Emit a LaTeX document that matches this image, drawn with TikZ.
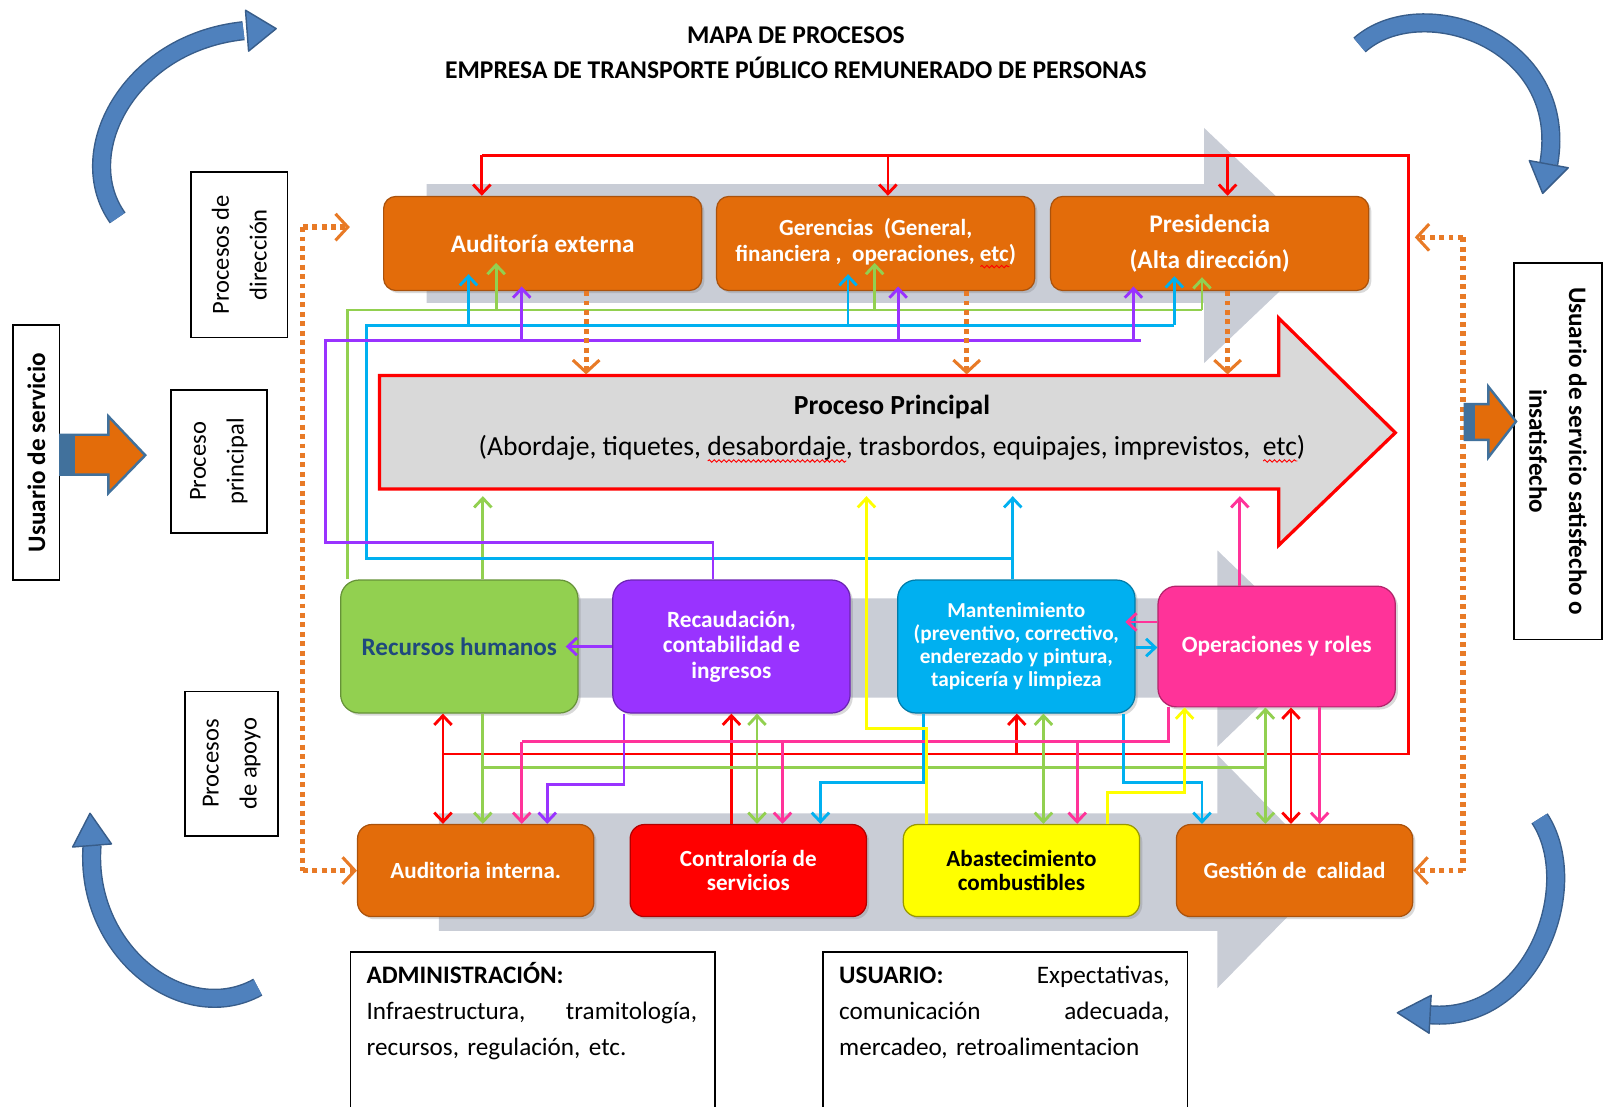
\documentclass[tikz,border=0pt]{standalone}
\usepackage{fontspec}
\setmainfont{Carlito}
\usetikzlibrary{arrows.meta,shadows,decorations.pathmorphing}

\definecolor{orgbox}{RGB}{227,108,10}
\definecolor{orgedge}{RGB}{170,82,12}
\definecolor{grn}{RGB}{146,208,80}
\definecolor{prp}{RGB}{153,51,255}
\definecolor{cyn}{RGB}{0,176,240}
\definecolor{pnk}{RGB}{255,51,153}
\definecolor{rd}{RGB}{255,0,0}
\definecolor{ylw}{RGB}{255,255,0}
\definecolor{bandgray}{RGB}{201,205,214}
\definecolor{maingray}{RGB}{217,217,217}
\definecolor{dotorg}{RGB}{232,122,38}
\definecolor{curvefill}{RGB}{79,129,189}
\definecolor{curveedge}{RGB}{56,93,138}
\definecolor{rhtext}{RGB}{31,73,125}
\definecolor{blockedge}{RGB}{65,113,156}

% red spell-check style wavy underline
\newsavebox\sqbox
\newdimen\sqlen
\newcommand\squig[1]{\leavevmode\sbox\sqbox{#1}\sqlen=\wd\sqbox
  \rlap{\raisebox{-3.4pt}{\tikz[x=1pt,y=1pt,sharp corners]{\draw[rd,sharp corners,line width=0.45pt,decorate,decoration={snake,amplitude=0.6pt,segment length=2.4pt}] (0,0) -- (\sqlen,0);}}}\usebox\sqbox}

\begin{document}
\frenchspacing
\begin{tikzpicture}[x=0.5pt,y=-0.5pt,
  ln/.style={line width=1.4pt},
  onehead/.style={-{Straight Barb[length=4.5pt,width=8.5pt]}},
  twohead/.style={{Straight Barb[length=4.5pt,width=8.5pt]}-{Straight Barb[length=4.5pt,width=8.5pt]}},
  dotl/.style={dotorg, line width=2.6pt, dash pattern=on 2.4pt off 2.2pt},
  dothead/.style={-{Straight Barb[length=6pt,width=13pt,line width=1.5pt]}},
  proc/.style={align=center, inner sep=2pt, line width=0.6pt,
    drop shadow={shadow xshift=1.3pt,shadow yshift=-1.3pt,opacity=0.3}},
  topbox/.style={proc, fill=orgbox, draw=orgedge, rounded corners=6pt,
    minimum width=155.5pt, minimum height=46pt, text=white,
    font=\fontsize{11.3}{12.5}\selectfont\bfseries},
  midbox/.style={proc, rounded corners=9pt, minimum width=116pt, minimum height=65pt,
    font=\fontsize{11.4}{12.5}\selectfont\bfseries},
  botbox/.style={proc, rounded corners=7pt, minimum width=115.5pt, minimum height=45pt,
    font=\fontsize{11.3}{12}\selectfont\bfseries},
  sidelbl/.style={draw, line width=0.8pt, align=center, inner sep=1pt,
    font=\fontsize{12}{18.5}\selectfont},
  txtframe/.style={draw, line width=0.8pt, minimum width=178pt, minimum height=95pt,
    anchor=north west, inner sep=0pt},
  txtbody/.style={anchor=north west, text width=161.5pt, align=left, inner sep=0pt,
    font=\fontsize{12.3}{17.5}\selectfont},
  bigtxt/.style={font=\fontsize{13.5}{15}\selectfont},
]
\useasboundingbox (0,0) rectangle (1568,1082);
\clip (0,0) rectangle (1568,1082);

% ---------- title
\node[font=\fontsize{12.5}{14}\selectfont\bfseries] (ttl1) at (778,34) {MAPA DE PROCESOS};
\node[font=\fontsize{12.5}{14}\selectfont\bfseries] (ttl2) at (778,66) {EMPRESA DE TRANSPORTE PÚBLICO REMUNERADO DE PERSONAS};

% ---------- grey process bands
\fill[bandgray] (417,180) -- (1177,180) -- (1177,125) -- (1298,240) -- (1177,355) -- (1177,296) -- (417,296) -- cycle;
\fill[bandgray] (345,585) -- (1190,585) -- (1190,538) -- (1290,634) -- (1190,730) -- (1190,682) -- (345,682) -- cycle;
\fill[bandgray] (429,795) -- (1190,795) -- (1190,738) -- (1302,852) -- (1190,966) -- (1190,910) -- (429,910) -- cycle;

% ---------- main process arrow
\filldraw[fill=maingray, draw=rd, line width=1.6pt] (371,367) -- (1250,367) -- (1250,311) -- (1364,423) -- (1250,533) -- (1250,478) -- (371,478) -- cycle;
\node[font=\fontsize{13.5}{15}\selectfont\bfseries] (mpt) at (872,398) {Proceso Principal};
\node[bigtxt] (mps) at (872,439) {(Abordaje, tiquetes, \squig{desabordaje}, trasbordos, equipajes, imprevistos,\ \ \squig{etc})};
\coordinate (mB) at (0,485);

% ---------- process boxes
\node[topbox, font=\fontsize{12.3}{13}\selectfont\bfseries] (aext) at (530.5,238) {Auditoría externa};
\node[topbox] (ger) at (856,238) {Gerencias\ \ (General,\\financiera ,\ \ operaciones, \squig{etc})};
\node[topbox, font=\fontsize{12.4}{13}\selectfont\bfseries] (pres) at (1182.5,238) {Presidencia\\[5pt](Alta dirección)};

\node[midbox, fill=grn, draw=grn!70!black, text=rhtext, font=\fontsize{12.3}{13}\selectfont\bfseries] (rh) at (449,632) {Recursos humanos};
\node[midbox, fill=prp, draw=prp!70!black, text=white] (rec) at (715,632) {Recaudación,\\contabilidad e\\ingresos};
\node[midbox, fill=cyn, draw=cyn!70!black, text=white, font=\fontsize{10.4}{11.2}\selectfont\bfseries] (man) at (993.5,632) {Mantenimiento\\(preventivo, correctivo,\\enderezado y pintura,\\tapicería y limpieza};
\node[midbox, fill=pnk, draw=pnk!70!black, text=white, minimum height=59pt] (ops) at (1248,632) {Operaciones y roles};

\node[botbox, fill=orgbox, draw=orgedge, text=white] (aint) at (465,851) {Auditoria interna.};
\node[botbox, fill=rd, draw=rd!70!black, text=white] (con) at (731.5,851) {Contraloría de\\servicios};
\node[botbox, fill=ylw, draw=ylw!60!black, text=black] (aba) at (998.5,851) {Abastecimiento\\combustibles};
\node[botbox, fill=orgbox, draw=orgedge, text=white] (gc) at (1265.5,851) {Gestión de\ \ calidad};

% ---------- red links
\coordinate (rTL) at (471,152);
\coordinate (rTG) at (868,152);
\coordinate (rTP) at (1200,152);
\coordinate (rTR) at (1377,152);
\coordinate (rBR) at (1377,737);
\coordinate (rBL) at (433,737);
\coordinate (rBM) at (994,737);
\draw[ln,rd] (rTL) -- (rTR) -- (rBR) -- (rBL);
\draw[ln,rd,onehead] (rTL) -- (aext.north -| rTL);
\draw[ln,rd,onehead] (rTG) -- (ger.north -| rTG);
\draw[ln,rd,onehead] (rTP) -- (pres.north -| rTP);
\draw[ln,rd,twohead] (rh.south -| rBL) -- (aint.north -| rBL);
\draw[ln,rd,onehead] (con.north -| 715,0) -- (rec.south -| 715,0);
\draw[ln,rd,onehead] (rBM) -- (man.south -| rBM);
\draw[ln,rd,twohead] (ops.south -| 1262,0) -- (gc.north -| 1262,0);

% ---------- upper buses to the management boxes
\coordinate (busG) at (340,303);
\coordinate (busC) at (358,318);
\coordinate (busP) at (318,333);
\coordinate (tG) at (0,257);
\coordinate (tC) at (0,268);
\coordinate (tP) at (0,280);

% green
\draw[ln,grn] (rh.north -| busG) -- (busG) -- (busG -| 1175,0);
\draw[ln,grn,onehead] (busG -| 485,0) -- (tG -| 485,0);
\draw[ln,grn,onehead] (busG -| 855,0) -- (tG -| 855,0);
\draw[ln,grn,onehead] (busG -| 1175,0) -- (1175,271);
\draw[ln,grn,onehead] (rh.north -| 472,0) -- (mB -| 472,0);
\draw[ln,grn,onehead] (rh.south -| 472,0) -- (aint.north -| 472,0);
\draw[ln,grn] (472,750) -- (1237,750);
\draw[ln,grn,twohead] (rec.south -| 740,0) -- (con.north -| 740,0);
\draw[ln,grn,twohead] (man.south -| 1020,0) -- (aba.north -| 1020,0);
\draw[ln,grn,twohead] (ops.south -| 1237,0) -- (gc.north -| 1237,0);

% cyan
\draw[ln,cyn,onehead] (man.north -| 990,0) -- (mB -| 990,0);
\draw[ln,cyn] (990,546) -- (busC |- 0,546) -- (busC) -- (busC -| 1148,0);
\draw[ln,cyn,onehead] (busC -| 458,0) -- (tC -| 458,0);
\draw[ln,cyn,onehead] (busC -| 829,0) -- (tC -| 829,0);
\draw[ln,cyn,onehead] (busC -| 1148,0) -- (1148,270);
\draw[ln,cyn,onehead] (man.east |- 0,633) -- (ops.west |- 0,633);
\draw[ln,cyn,onehead] (man.south -| 903,0) -- (903,765) -- (802,765) -- (con.north -| 802,0);
\draw[ln,cyn,onehead] (man.south -| 1098,0) -- (1098,765) -- (1175,765) -- (gc.north -| 1175,0);

% purple
\draw[ln,prp] (rec.north -| 697,0) -- (697,530) -- (busP |- 0,530) -- (busP) -- (busP -| 1115,0);
\draw[ln,prp,onehead] (busP -| 510,0) -- (tP -| 510,0);
\draw[ln,prp,onehead] (busP -| 878,0) -- (tP -| 878,0);
\draw[ln,prp,onehead] (busP -| 1108,0) -- (tP -| 1108,0);
\draw[ln,prp,onehead] (rec.west) -- (553,632);
\draw[ln,prp,onehead] (rec.south -| 610,0) -- (610,767) -- (535,767) -- (aint.north -| 535,0);

% pink
\draw[ln,pnk,onehead] (ops.north -| 1212,0) -- (mB -| 1212,0);
\draw[ln,pnk,onehead] (ops.west |- 0,608) -- (1100,608);
\draw[ln,pnk] (ops.south -| 1142,0) -- (1142,725) -- (510,725);
\draw[ln,pnk,onehead] (510,725) -- (aint.north -| 510,0);
\draw[ln,pnk,onehead] (765,725) -- (con.north -| 765,0);
\draw[ln,pnk,onehead] (1053,725) -- (aba.north -| 1053,0);
\draw[ln,pnk,onehead] (ops.south -| 1290,0) -- (gc.north -| 1290,0);

% yellow
\draw[ln,ylw,onehead] (aba.north -| 906,0) -- (906,712) -- (847,712) -- (mB -| 847,0);
\draw[ln,ylw,onehead] (aba.north -| 1083,0) -- (1083,775) -- (1158,775) -- (ops.south -| 1158,0);

% ---------- dotted feedback arrows
\coordinate (dL1) at (296,222);
\coordinate (dL2) at (296,851);
\coordinate (dLt) at (342,222);
\coordinate (dR1) at (1430,232);
\coordinate (dR2) at (1430,851);
\coordinate (dRt) at (1383,232);
\coordinate (dM) at (0,366);
\draw[dotl] (dL1) -- (dL2);
\draw[dotl,dothead] (dL1) -- (dLt);
\draw[dotl,dothead] (dL2) -- (aint.west);
\draw[dotl] (dR1) -- (dR2);
\draw[dotl,dothead] (dR1) -- (dRt);
\draw[dotl,dothead] (dR2) -- (gc.east);
\draw[dotl,dothead] (aext.south -| 573,0) -- (dM -| 573,0);
\draw[dotl,dothead] (ger.south -| 945,0) -- (dM -| 945,0);
\draw[dotl,dothead] (pres.south -| 1200,0) -- (dM -| 1200,0);

% ---------- side labels
\node[sidelbl, rotate=90, minimum width=81pt, minimum height=47pt] (ldir) at (234,249) {Procesos de\\dirección};
\node[sidelbl, rotate=90, minimum width=70pt, minimum height=47pt] (lpp) at (214,451) {Proceso\\principal};
\node[sidelbl, rotate=90, minimum width=70.5pt, minimum height=45.5pt] (lapo) at (226.5,746.5) {Procesos\\de apoyo};
\node[sidelbl, rotate=90, minimum width=124.5pt, minimum height=22.5pt, font=\fontsize{12.3}{13}\selectfont\bfseries] (luser) at (35.5,442.5) {Usuario de servicio};
\node[sidelbl, rotate=-90, minimum width=184pt, minimum height=43pt, font=\fontsize{12.3}{19.5}\selectfont\bfseries] (lsat) at (1523,441) {Usuario de servicio satisfecho o\\insatisfecho};

% ---------- block arrows in and out
\filldraw[fill=orgbox, draw=blockedge, line width=1.2pt] (59,425) -- (106,425) -- (106,407) -- (142,445) -- (106,482) -- (106,464) -- (59,464) -- cycle;
\fill[blockedge] (60,426) rectangle (73,463);
\filldraw[fill=orgbox, draw=blockedge, line width=1.2pt] (1432,395) -- (1455,395) -- (1455,378) -- (1482,412) -- (1455,447) -- (1455,430) -- (1432,430) -- cycle;
\fill[blockedge] (1433,396) rectangle (1442,429);

% ---------- blue cycle arrows
\draw[curveedge, line width=9.4pt] (115,213) .. controls (70,150) and (125,42) .. (238,30);
\draw[curvefill, line width=8pt] (115,213) .. controls (70,150) and (125,42) .. (238,30);
\filldraw[fill=curvefill, draw=curveedge, line width=0.7pt, line join=round] (240,10) -- (270,28) -- (243,50) -- cycle;

\draw[curveedge, line width=9.4pt] (1329,44) .. controls (1390,-10) and (1535,40) .. (1514,160);
\draw[curvefill, line width=8pt] (1329,44) .. controls (1390,-10) and (1535,40) .. (1514,160);
\filldraw[fill=curvefill, draw=curveedge, line width=0.7pt, line join=round] (1495,157) -- (1508,189) -- (1533,164) -- cycle;

\draw[curveedge, line width=9.4pt] (252,965) .. controls (180,1005) and (82,930) .. (90,826);
\draw[curvefill, line width=8pt] (252,965) .. controls (180,1005) and (82,930) .. (90,826);
\filldraw[fill=curvefill, draw=curveedge, line width=0.7pt, line join=round] (71,828) -- (88,795) -- (109,825) -- cycle;

\draw[curveedge, line width=9.4pt] (1505,800) .. controls (1548,865) and (1500,1000) .. (1398,992);
\draw[curvefill, line width=8pt] (1505,800) .. controls (1548,865) and (1500,1000) .. (1398,992);
\filldraw[fill=curvefill, draw=curveedge, line width=0.7pt, line join=round] (1399,973) -- (1366,990) -- (1397,1010) -- cycle;

% ---------- bottom notes
\node[txtframe] (admbox) at (342,930) {};
\node[txtbody] (admtxt) at (358,937) {\strut\textbf{ADMINISTRACIÓN:}\\\strut Infraestructura,\hfill tramitología,\\\strut recursos, regulación, etc.};
\node[txtframe] (usrbox) at (804,930) {};
\node[txtbody] (usrtxt) at (820,937) {\strut\textbf{USUARIO:}\hfill Expectativas,\\\strut comunicación\hfill adecuada,\\\strut mercadeo, retroalimentacion};
\end{tikzpicture}
\end{document}
